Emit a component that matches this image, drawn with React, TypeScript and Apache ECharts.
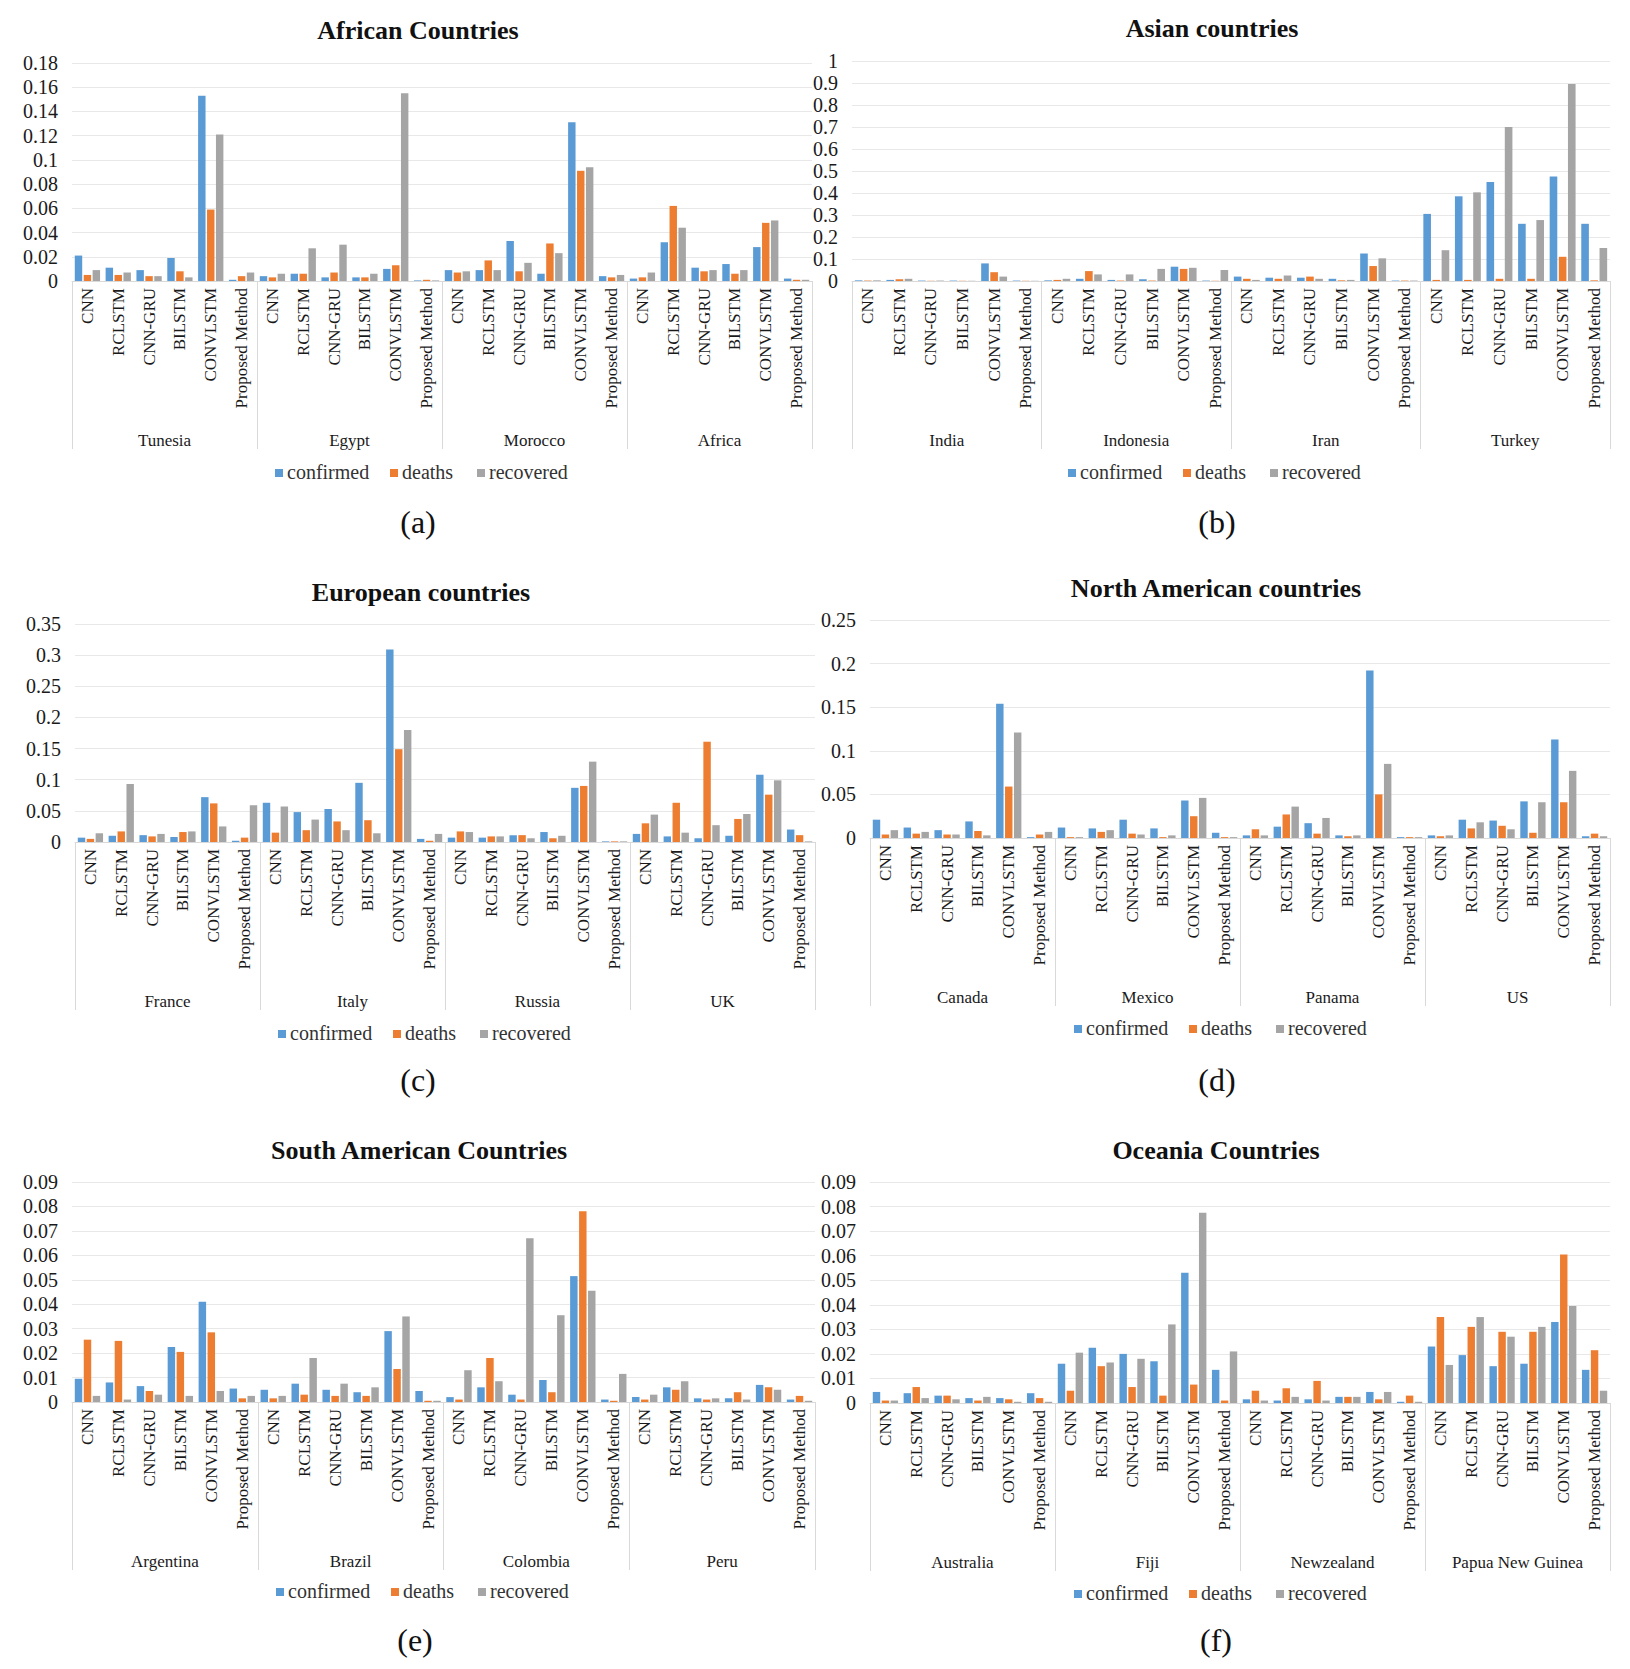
import React, { useEffect, useRef } from 'react';
import * as echarts from 'echarts';

const methods = ['CNN', 'RCLSTM', 'CNN-GRU', 'BILSTM', 'CONVLSTM', 'Proposed Method'];
const seriesNames = ['confirmed', 'deaths', 'recovered'];
const seriesColors = ['#5B9BD5', '#ED7D31', '#A5A5A5'];

// (a) African countries
const africaTitle = 'African Countries';
const africaCountries = ['Tunesia', 'Egypt', 'Morocco', 'Africa'];
const africaConfirmed = [0.021, 0.011, 0.009, 0.019, 0.153, 0.001, 0.004, 0.006, 0.003, 0.003, 0.010, 0.0005, 0.009, 0.009, 0.033, 0.006, 0.131, 0.004, 0.002, 0.032, 0.011, 0.014, 0.028, 0.002];
const africaDeaths = [0.005, 0.005, 0.004, 0.008, 0.059, 0.004, 0.003, 0.006, 0.007, 0.003, 0.013, 0.001, 0.007, 0.017, 0.008, 0.031, 0.091, 0.003, 0.003, 0.062, 0.008, 0.006, 0.048, 0.001];
const africaRecovered = [0.009, 0.007, 0.004, 0.003, 0.121, 0.007, 0.006, 0.027, 0.030, 0.006, 0.155, 0.0005, 0.008, 0.009, 0.015, 0.023, 0.094, 0.005, 0.007, 0.044, 0.009, 0.009, 0.050, 0.001];
const africaMax = 0.18;
const africaStep = 0.02;

// (b) Asian countries
const asiaTitle = 'Asian countries';
const asiaCountries = ['India', 'Indonesia', 'Iran', 'Turkey'];
const asiaConfirmed = [0.003, 0.005, 0.002, 0.002, 0.08, 0.002, 0.003, 0.01, 0.005, 0.008, 0.065, 0.002, 0.02, 0.015, 0.015, 0.01, 0.125, 0.002, 0.305, 0.385, 0.45, 0.26, 0.475, 0.26];
const asiaDeaths = [0.002, 0.008, 0.001, 0.001, 0.04, 0.001, 0.005, 0.045, 0.002, 0.002, 0.055, 0.001, 0.01, 0.01, 0.02, 0.003, 0.068, 0.002, 0.005, 0.005, 0.01, 0.01, 0.11, 0.003];
const asiaRecovered = [0.003, 0.01, 0.002, 0.001, 0.02, 0.001, 0.01, 0.03, 0.03, 0.055, 0.06, 0.05, 0.005, 0.025, 0.01, 0.005, 0.103, 0.002, 0.14, 0.403, 0.70, 0.277, 0.895, 0.15];
const asiaMax = 1;
const asiaStep = 0.1;

// (c) European countries
const europeTitle = 'European countries';
const europeCountries = ['France', 'Italy', 'Russia', 'UK'];
const europeConfirmed = [0.007, 0.01, 0.011, 0.008, 0.072, 0.002, 0.063, 0.048, 0.053, 0.095, 0.309, 0.005, 0.007, 0.007, 0.011, 0.016, 0.087, 0.001, 0.013, 0.009, 0.006, 0.01, 0.108, 0.02];
const europeDeaths = [0.005, 0.017, 0.009, 0.016, 0.062, 0.007, 0.015, 0.019, 0.033, 0.035, 0.149, 0.002, 0.017, 0.009, 0.011, 0.006, 0.09, 0.001, 0.03, 0.063, 0.161, 0.037, 0.076, 0.011];
const europeRecovered = [0.014, 0.093, 0.013, 0.017, 0.025, 0.059, 0.057, 0.036, 0.019, 0.014, 0.18, 0.013, 0.016, 0.009, 0.006, 0.01, 0.129, 0.001, 0.044, 0.015, 0.027, 0.045, 0.099, 0.001];
const europeMax = 0.35;
const europeStep = 0.05;

// (d) North American countries
const northTitle = 'North American countries';
const northCountries = ['Canada', 'Mexico', 'Panama', 'US'];
const northConfirmed = [0.021, 0.012, 0.009, 0.019, 0.154, 0.001, 0.012, 0.011, 0.021, 0.011, 0.043, 0.006, 0.003, 0.013, 0.017, 0.003, 0.192, 0.001, 0.003, 0.021, 0.02, 0.042, 0.113, 0.002];
const northDeaths = [0.004, 0.005, 0.004, 0.008, 0.059, 0.004, 0.001, 0.007, 0.005, 0.001, 0.025, 0.001, 0.01, 0.027, 0.005, 0.002, 0.05, 0.001, 0.002, 0.011, 0.014, 0.006, 0.041, 0.005];
const northRecovered = [0.009, 0.007, 0.004, 0.003, 0.121, 0.007, 0.001, 0.009, 0.004, 0.003, 0.046, 0.001, 0.003, 0.036, 0.023, 0.003, 0.085, 0.001, 0.003, 0.018, 0.01, 0.041, 0.077, 0.002];
const northMax = 0.25;
const northStep = 0.05;

// (e) South American countries
const southTitle = 'South American Countries';
const southCountries = ['Argentina', 'Brazil', 'Colombia', 'Peru'];
const southConfirmed = [0.0095, 0.008, 0.0065, 0.0225, 0.041, 0.0055, 0.005, 0.0075, 0.005, 0.004, 0.029, 0.0045, 0.002, 0.006, 0.003, 0.009, 0.0515, 0.001, 0.002, 0.006, 0.0015, 0.0015, 0.007, 0.001];
const southDeaths = [0.0255, 0.025, 0.0045, 0.0205, 0.0285, 0.0015, 0.0015, 0.003, 0.0025, 0.0025, 0.0135, 0.0005, 0.001, 0.018, 0.001, 0.004, 0.078, 0.0005, 0.001, 0.005, 0.001, 0.004, 0.006, 0.0025];
const southRecovered = [0.0025, 0.001, 0.003, 0.0025, 0.0045, 0.0025, 0.0025, 0.018, 0.0075, 0.006, 0.035, 0.0005, 0.013, 0.0085, 0.067, 0.0355, 0.0455, 0.0115, 0.003, 0.0085, 0.0015, 0.001, 0.005, 0.0005];
const southMax = 0.09;
const southStep = 0.01;

// (f) Oceania countries
const oceaniaTitle = 'Oceania Countries';
const oceaniaCountries = ['Australia', 'Fiji', 'Newzealand', 'Papua New Guinea'];
const oceaniaConfirmed = [0.0045, 0.004, 0.003, 0.002, 0.002, 0.004, 0.016, 0.0225, 0.02, 0.017, 0.053, 0.0135, 0.0015, 0.001, 0.0015, 0.0025, 0.0045, 0.0005, 0.023, 0.0195, 0.015, 0.016, 0.033, 0.0135];
const oceaniaDeaths = [0.001, 0.0065, 0.003, 0.001, 0.0015, 0.002, 0.005, 0.015, 0.0065, 0.003, 0.0075, 0.001, 0.005, 0.006, 0.009, 0.0025, 0.0015, 0.003, 0.035, 0.031, 0.029, 0.029, 0.0605, 0.0215];
const oceaniaRecovered = [0.001, 0.002, 0.0015, 0.0025, 0.0005, 0.0005, 0.0205, 0.0165, 0.018, 0.032, 0.0775, 0.021, 0.001, 0.0025, 0.001, 0.0025, 0.0045, 0.0005, 0.0155, 0.035, 0.027, 0.031, 0.0395, 0.005];
const oceaniaMax = 0.09;
const oceaniaStep = 0.01;

const panelLabels = ['(a)', '(b)', '(c)', '(d)', '(e)', '(f)'];

const panels = [
  { title: africaTitle, countries: africaCountries, values: [africaConfirmed, africaDeaths, africaRecovered], max: africaMax, step: africaStep },
  { title: asiaTitle, countries: asiaCountries, values: [asiaConfirmed, asiaDeaths, asiaRecovered], max: asiaMax, step: asiaStep },
  { title: europeTitle, countries: europeCountries, values: [europeConfirmed, europeDeaths, europeRecovered], max: europeMax, step: europeStep },
  { title: northTitle, countries: northCountries, values: [northConfirmed, northDeaths, northRecovered], max: northMax, step: northStep },
  { title: southTitle, countries: southCountries, values: [southConfirmed, southDeaths, southRecovered], max: southMax, step: southStep },
  { title: oceaniaTitle, countries: oceaniaCountries, values: [oceaniaConfirmed, oceaniaDeaths, oceaniaRecovered], max: oceaniaMax, step: oceaniaStep },
];

// layout (pixels)
const layout = [
  { grid: [72, 63, 740, 218], title: [418, 30], label: [418, 522], legend: [275, 472] },
  { grid: [852, 61, 758, 220], title: [1212, 28], label: [1217, 522], legend: [1068, 472] },
  { grid: [75, 624, 740, 218], title: [421, 592], label: [418, 1080], legend: [278, 1033] },
  { grid: [870, 620, 740, 218], title: [1216, 588], label: [1217, 1080], legend: [1074, 1028] },
  { grid: [72, 1182, 743, 220], title: [419, 1150], label: [415, 1640], legend: [276, 1591] },
  { grid: [870, 1182, 740, 221], title: [1216, 1150], label: [1216, 1640], legend: [1074, 1593] },
];
const legendOffsets = [0, 115, 202];

const FONT = "'Liberation Serif', 'Times New Roman', serif";

function buildOption() {
  const grid: any[] = [];
  const xAxis: any[] = [];
  const yAxis: any[] = [];
  const series: any[] = [];
  const graphic: any[] = [];

  panels.forEach((p, i) => {
    const L = layout[i];
    grid.push({ left: L.grid[0], top: L.grid[1], width: L.grid[2], height: L.grid[3], containLabel: false });
    const cats: string[] = [];
    p.countries.forEach(() => methods.forEach((m) => cats.push(m)));
    xAxis.push({
      type: 'category',
      gridIndex: i,
      position: 'bottom',
      data: cats,
      axisLine: { show: true, lineStyle: { color: '#d9d9d9' } },
      axisTick: { show: false },
      axisLabel: { interval: 0, rotate: 90, margin: 7, fontFamily: FONT, fontSize: 17, color: '#1a1a1a' },
    });
    xAxis.push({
      type: 'category',
      gridIndex: i,
      position: 'bottom',
      data: p.countries,
      axisLine: { show: false },
      axisTick: { show: true, length: 168, lineStyle: { color: '#d9d9d9' } },
      axisLabel: { interval: 0, margin: 151, fontFamily: FONT, fontSize: 17, color: '#1a1a1a' },
    });
    yAxis.push({
      type: 'value',
      gridIndex: i,
      min: 0,
      max: p.max,
      interval: p.step,
      axisLine: { show: false },
      axisTick: { show: false },
      splitLine: { show: true, lineStyle: { color: '#e8e8e8' } },
      axisLabel: { margin: 14, fontFamily: FONT, fontSize: 20, color: '#1a1a1a' },
    });
    seriesNames.forEach((name, s) => {
      series.push({
        type: 'bar',
        name,
        xAxisIndex: i * 2,
        yAxisIndex: i,
        data: p.values[s],
        itemStyle: { color: seriesColors[s] },
        barGap: '20%',
        barCategoryGap: '18%',
      });
      const lx = L.legend[0] + legendOffsets[s];
      const ly = L.legend[1];
      graphic.push({
        type: 'rect',
        shape: { x: lx, y: ly - 3, width: 8, height: 8 },
        style: { fill: seriesColors[s] },
      });
      graphic.push({
        type: 'text',
        x: lx + 12,
        y: ly,
        style: { text: name, font: `20px ${FONT}`, fill: '#333333', align: 'left', verticalAlign: 'middle' },
      });
    });
    graphic.push({
      type: 'text',
      x: L.title[0],
      y: L.title[1],
      style: { text: p.title, font: `bold 26px ${FONT}`, fill: '#111', align: 'center', verticalAlign: 'middle' },
    });
    graphic.push({
      type: 'text',
      x: L.label[0],
      y: L.label[1],
      style: { text: panelLabels[i], font: `32px ${FONT}`, fill: '#111', align: 'center', verticalAlign: 'middle' },
    });
  });

  return {
    animation: false,
    backgroundColor: '#ffffff',
    textStyle: { fontFamily: FONT },
    grid,
    xAxis,
    yAxis,
    series,
    graphic,
  };
}

export default function App() {
  const ref = useRef<HTMLDivElement>(null);
  useEffect(() => {
    if (!ref.current) return;
    const chart = echarts.init(ref.current, undefined, { renderer: 'svg' });
    chart.setOption(buildOption() as any);
    return () => chart.dispose();
  }, []);
  return (
    <div
      ref={ref}
      style={{ position: 'absolute', left: 0, top: 0, width: 1630, height: 1669, background: '#fff' }}
    />
  );
}
